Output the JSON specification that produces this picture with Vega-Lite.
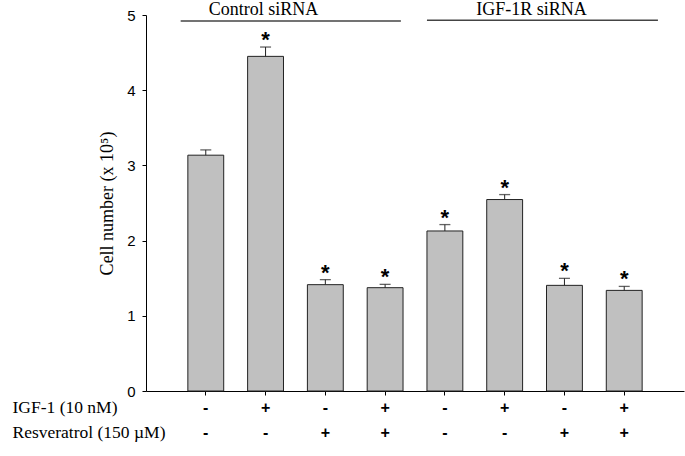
{
  "$schema": "https://vega.github.io/schema/vega-lite/v6.json",
  "autosize": "none",
  "width": 538,
  "height": 376,
  "padding": {"left": 146, "top": 15, "right": 1, "bottom": 65},
  "background": "white",
  "config": {"view": {"stroke": null}},
  "data": {
    "values": [
      {"bar": "Control|-|-", "group": "Control siRNA", "igf": "-", "res": "-", "mean": 3.136, "upper": 3.206, "sig": false},
      {"bar": "Control|+|-", "group": "Control siRNA", "igf": "+", "res": "-", "mean": 4.45, "upper": 4.574, "sig": true},
      {"bar": "Control|-|+", "group": "Control siRNA", "igf": "-", "res": "+", "mean": 1.414, "upper": 1.481, "sig": true},
      {"bar": "Control|+|+", "group": "Control siRNA", "igf": "+", "res": "+", "mean": 1.374, "upper": 1.418, "sig": true},
      {"bar": "IGF|-|-", "group": "IGF-1R siRNA", "igf": "-", "res": "-", "mean": 2.128, "upper": 2.213, "sig": true},
      {"bar": "IGF|+|-", "group": "IGF-1R siRNA", "igf": "+", "res": "-", "mean": 2.546, "upper": 2.612, "sig": true},
      {"bar": "IGF|-|+", "group": "IGF-1R siRNA", "igf": "-", "res": "+", "mean": 1.405, "upper": 1.498, "sig": true},
      {"bar": "IGF|+|+", "group": "IGF-1R siRNA", "igf": "+", "res": "+", "mean": 1.338, "upper": 1.391, "sig": true}
    ]
  },
  "layer": [
    {
      "mark": {"type": "bar", "fill": "#c0c0c0", "stroke": "#222222", "strokeWidth": 1},
      "encoding": {
        "x": {
          "field": "bar", "type": "nominal", "sort": null,
          "scale": {
            "domain": ["Control|-|-", "Control|+|-", "Control|-|+", "Control|+|+", "IGF|-|-", "IGF|+|-", "IGF|-|+", "IGF|+|+"],
            "paddingInner": 0.4, "paddingOuter": 0.7
          },
          "axis": {
            "title": ["IGF-1 (10 nM)", "Resveratrol (150 µM)"],
            "titleFont": "Liberation Serif", "titleFontSize": 17.5, "titleFontWeight": "normal", "titleColor": "black",
            "titleAlign": "left", "titleBaseline": "top", "titleX": -134, "titleY": 7, "titleLineHeight": 25, "titleAngle": 0,
            "labelExpr": "slice(split(datum.value, '|'), 1)",
            "labelAngle": 0, "labelFont": "Liberation Sans", "labelFontSize": 16, "labelFontWeight": "bold",
            "labelColor": "black", "labelLineHeight": 25, "labelPadding": 4, "labelBaseline": "top",
            "tickSize": 4, "tickColor": "black", "domainColor": "black", "domainWidth": 1, "grid": false
          }
        },
        "y": {
          "field": "mean", "type": "quantitative",
          "scale": {"domain": [0, 5], "nice": false, "zero": true},
          "axis": {
            "title": "Cell number (x 10⁵)", "titleFont": "Liberation Serif", "titleFontSize": 18, "titleFontWeight": "normal",
            "titleColor": "black", "titlePadding": 10, "format": "d",
            "values": [0, 1, 2, 3, 4, 5], "labelFont": "Liberation Sans", "labelFontSize": 15, "labelColor": "black",
            "labelPadding": 7, "tickSize": 4, "tickColor": "black", "domainColor": "black", "grid": false
          }
        }
      }
    },
    {
      "mark": {"type": "rule", "color": "#222222", "strokeWidth": 1},
      "encoding": {
        "x": {"field": "bar", "type": "nominal"},
        "y": {"field": "mean", "type": "quantitative"},
        "y2": {"field": "upper"}
      }
    },
    {
      "mark": {"type": "tick", "orient": "horizontal", "color": "#222222", "size": 11, "thickness": 1.3},
      "encoding": {
        "x": {"field": "bar", "type": "nominal"},
        "y": {"field": "upper", "type": "quantitative"}
      }
    },
    {
      "transform": [{"filter": "datum.sig"}],
      "mark": {"type": "text", "text": "*", "font": "Liberation Sans", "fontSize": 22, "fontWeight": "bold", "baseline": "alphabetic", "align": "center", "color": "black"},
      "encoding": {
        "x": {"field": "bar", "type": "nominal"},
        "y": {"field": "upper", "type": "quantitative"}
      }
    },
    {
      "data": {"values": [{"group": "Control siRNA", "start": "Control|-|-", "end": "Control|+|+", "level": 4.92}]},
      "mark": {"type": "rule", "color": "#444444", "strokeWidth": 1.3},
      "encoding": {
        "x": {"field": "start", "type": "nominal", "bandPosition": -0.2},
        "x2": {"field": "end", "bandPosition": 0.94},
        "y": {"field": "level", "type": "quantitative"}
      }
    },
    {
      "data": {"values": [{"group": "IGF-1R siRNA", "start": "IGF|-|-", "end": "IGF|+|+", "level": 4.93}]},
      "mark": {"type": "rule", "color": "#444444", "strokeWidth": 1.3},
      "encoding": {
        "x": {"field": "start", "type": "nominal", "bandPosition": 0},
        "x2": {"field": "end", "bandPosition": 1.44},
        "y": {"field": "level", "type": "quantitative"}
      }
    },
    {
      "data": {"values": [{"group": "Control siRNA", "anchor": "Control|+|-", "level": 5}]},
      "mark": {"type": "text", "font": "Liberation Serif", "fontSize": 18, "baseline": "alphabetic", "align": "center", "color": "black"},
      "encoding": {
        "x": {"field": "anchor", "type": "nominal", "bandPosition": 0.44},
        "y": {"field": "level", "type": "quantitative"},
        "text": {"field": "group"}
      }
    },
    {
      "data": {"values": [{"group": "IGF-1R siRNA", "anchor": "IGF|+|-", "level": 5}]},
      "mark": {"type": "text", "font": "Liberation Serif", "fontSize": 18, "baseline": "alphabetic", "align": "center", "color": "black"},
      "encoding": {
        "x": {"field": "anchor", "type": "nominal", "bandPosition": 1.25},
        "y": {"field": "level", "type": "quantitative"},
        "text": {"field": "group"}
      }
    }
  ]
}
